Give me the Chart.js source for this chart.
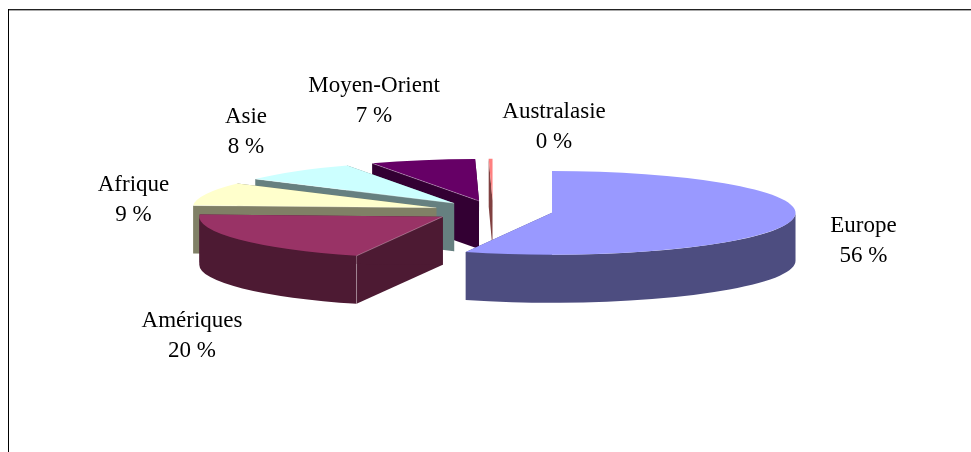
<!DOCTYPE html>
<html>
<head>
<meta charset="utf-8">
<style>html,body{margin:0;padding:0;background:#fff;overflow:hidden}canvas{display:block}</style>
<script src="https://cdn.jsdelivr.net/npm/chart.js@4"></script>
</head>
<body>
<canvas id="c" width="971" height="452"></canvas>
<script>
const categories = ['Europe', 'Amériques', 'Afrique', 'Asie', 'Moyen-Orient', 'Australasie'];
const shares = [55.9, 20.1, 9, 8, 7, 0.25];
const topColors = ['#9999FF', '#993366', '#FFFFCC', '#CCFFFF', '#660066', '#FF8080'];
const sideColors = ['#4D4D80', '#4D1A33', '#808066', '#668080', '#330033', '#804040'];
const labelCentres = [[863.5, 241], [192, 335.5], [133.5, 199.5], [246, 132], [374, 101], [554, 126.5]];
const TILT = 0.172, EXPLODE = 60, DEPTH = 48, LINE = 30;
const EDGE = 'rgba(255,255,255,0.3)';

const pie3d = {
  id: 'pie3d',
  beforeDraw(chart) {
    const g = chart.ctx;
    g.save();
    g.fillStyle = '#fff'; g.fillRect(0, 0, 971, 452);
    g.fillStyle = '#222'; g.fillRect(8, 9, 963, 1);
    g.fillStyle = '#aaa'; g.fillRect(9, 10, 962, 1);
    g.fillStyle = '#000'; g.fillRect(8, 9, 1, 443);
    g.restore();
  },
  beforeDatasetDraw(chart) {
    const g = chart.ctx;
    const arcs = chart.getDatasetMeta(0).data;
    // paint from the back of the pie to the front
    for (let i = arcs.length - 1; i >= 0; i--) {
      const arc = arcs[i];
      const { x, y, startAngle: a0, endAngle: a1, outerRadius: r } = arc.getProps(['x', 'y', 'startAngle', 'endAngle', 'outerRadius'], true);
      const mid = (a0 + a1) / 2;
      const cx = x + Math.cos(mid) * EXPLODE;
      const cy = y + Math.sin(mid) * EXPLODE * TILT;
      const ry = r * TILT;
      const rim = a => [cx + r * Math.cos(a), cy + ry * Math.sin(a)];
      g.save();
      g.fillStyle = sideColors[i];
      // radial cut faces
      [a0, a1].forEach(a => {
        const [px, py] = rim(a);
        g.beginPath();
        g.moveTo(cx, cy); g.lineTo(px, py); g.lineTo(px, py + DEPTH); g.lineTo(cx, cy + DEPTH);
        g.closePath(); g.fill();
      });
      // outer wall: only the front half (0..PI on canvas) is visible
      const w0 = Math.max(a0, 0), w1 = Math.min(a1, Math.PI);
      if (w1 > w0) {
        g.beginPath();
        g.ellipse(cx, cy, r, ry, 0, w0, w1);
        g.ellipse(cx, cy + DEPTH, r, ry, 0, w1, w0, true);
        g.closePath(); g.fill();
      }
      // top face
      g.save();
      g.translate(x, y); g.scale(1, TILT); g.translate(-x, -y);
      g.translate(Math.cos(mid) * EXPLODE, Math.sin(mid) * EXPLODE);
      arc.draw(g);
      g.restore();
      // faint highlights where the top meets the visible cut face
      if (i > 0 && i < 5) {
        const [px, py] = rim(a0);
        g.strokeStyle = EDGE; g.lineWidth = 1;
        g.beginPath();
        g.moveTo(cx, cy); g.lineTo(px, py);
        if (i === 1) g.lineTo(px, py + DEPTH);
        g.stroke();
      }
      g.restore();
    }
    return false;
  },
  afterDatasetsDraw(chart) {
    const g = chart.ctx;
    g.save();
    g.fillStyle = '#000';
    g.font = '23px "Liberation Serif"';
    g.textAlign = 'center'; g.textBaseline = 'middle';
    categories.forEach((name, i) => {
      const [lx, ly] = labelCentres[i];
      g.fillText(name, lx, ly - LINE / 2);
      g.fillText(Math.round(shares[i]) + ' %', lx, ly + LINE / 2);
    });
    g.restore();
  }
};

new Chart(document.getElementById('c'), {
  type: 'pie',
  data: {
    labels: categories,
    datasets: [{ data: shares, backgroundColor: topColors, borderWidth: 0, hoverOffset: 0 }]
  },
  options: {
    responsive: false,
    animation: false,
    radius: 243.5,
    layout: { padding: { left: 15, top: 0, bottom: 30, right: 0 } },
    plugins: { legend: { display: false }, tooltip: { enabled: false } },
    events: []
  },
  plugins: [pie3d]
});
</script>
</body>
</html>
